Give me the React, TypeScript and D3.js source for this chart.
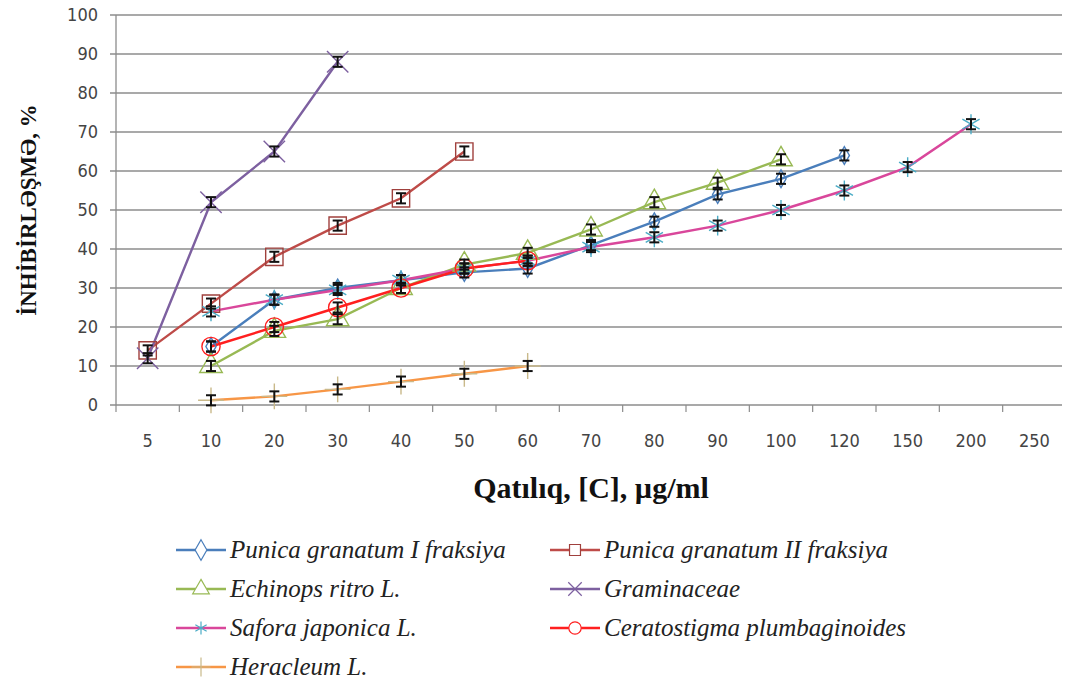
import { useEffect } from "react";
import * as d3 from "d3";

const categories = ["5", "10", "20", "30", "40", "50", "60", "70", "80", "90", "100", "120", "150", "200", "250"];
const yTicks = [0, 10, 20, 30, 40, 50, 60, 70, 80, 90, 100];

const punicaI = [null, 15, 27, 30, 32, 34, 35, 41, 47, 54, 58, 64, null, null, null];
const punicaII = [14, 26, 38, 46, 53, 65, null, null, null, null, null, null, null, null, null];
const echinops = [null, 10, 19, 22, 30, 36, 39, 45, 52, 57, 63, null, null, null, null];
const graminaceae = [12, 52, 65, 88, null, null, null, null, null, null, null, null, null, null, null];
const safora = [null, 24, 27, 29.5, 32, 35, 37, 40.5, 43, 46, 50, 55, 61, 72, null];
const ceratostigma = [null, 15, 20, 25, 30, 35, 37, null, null, null, null, null, null, null, null];
const heracleum = [null, 1.2, 2.2, 4, 6, 8, 10, null, null, null, null, null, null, null, null];

const series = [
  { name: "Punica granatum I fraksiya", values: punicaI, color: "#4A7EBB", mark: "diamond", markColor: "#4A7EBB" },
  { name: "Punica granatum II fraksiya", values: punicaII, color: "#BE4B48", mark: "square", markColor: "#A0403D" },
  { name: "Echinops ritro L.", values: echinops, color: "#98B954", mark: "triangle", markColor: "#98B954" },
  { name: "Graminaceae", values: graminaceae, color: "#7D60A0", mark: "x", markColor: "#7D60A0" },
  { name: "Safora japonica L.", values: safora, color: "#D9479B", mark: "asterisk", markColor: "#4BACC6" },
  { name: "Ceratostigma plumbaginoides", values: ceratostigma, color: "#FF1F1F", mark: "circle", markColor: "#FF1F1F" },
  { name: "Heracleum L.", values: heracleum, color: "#F79646", mark: "plus", markColor: "#C9B98A" },
];

const errHalf = 1.3;

const symbolFor = (m: string) => {
  switch (m) {
    case "diamond": return d3.symbol(d3.symbolDiamond, 90);
    case "square": return d3.symbol(d3.symbolSquare, 300);
    case "triangle": return d3.symbol(d3.symbolTriangle, 220);
    case "x": return d3.symbol(d3.symbolTimes, 300);
    case "asterisk": return d3.symbol(d3.symbolAsterisk, 280);
    case "circle": return d3.symbol(d3.symbolCircle, 260);
    default: return d3.symbol(d3.symbolPlus, 220);
  }
};

const serif = "'Liberation Serif', 'DejaVu Serif', serif";

export default function App() {
  useEffect(() => {
    document.body.style.margin = "0";
  }, []);

  const W = 1070, H = 681;
  const m = { left: 116, right: 4, top: 15, bottom: 276 };
  const x = d3.scaleBand().domain(categories).range([m.left, W - m.right]).padding(0);
  const y = d3.scaleLinear().domain([0, 100]).range([H - m.bottom, m.top]);
  const cx = (i: number) => (x(categories[i]) as number) + x.bandwidth() / 2;

  const line = d3
    .line<number | null>()
    .defined((d) => d !== null)
    .x((_, i) => cx(i))
    .y((d) => y(d as number));

  const axisColor = "#8C8C8C";
  const tickFont = "'DejaVu Sans Condensed', 'Liberation Sans', sans-serif";
  const legendRows = [550, 589, 628, 667];
  const legendCols = [176, 550];

  return (
    <svg width={W} height={H} style={{ display: "block", background: "#fff" }}>
      {/* grid */}
      {yTicks.map((t) => (
        <g key={t}>
          <line x1={m.left - 6} x2={W - m.right - 4} y1={y(t)} y2={y(t)} stroke={axisColor} strokeWidth={1.3} />
          <text x={m.left - 18} y={y(t)} dy="0.35em" textAnchor="end" style={{ fontFamily: tickFont }} fontSize={18} fill="#444">
            {t}
          </text>
        </g>
      ))}
      <line x1={m.left} x2={m.left} y1={y(100)} y2={y(0)} stroke={axisColor} strokeWidth={1.3} />
      {/* x ticks */}
      {categories.map((c, i) => (
        <g key={c}>
          <line x1={x(c) as number} x2={x(c) as number} y1={y(0)} y2={y(0) + 7} stroke={axisColor} strokeWidth={1.2} />
          <text x={cx(i)} y={y(0) + 42} textAnchor="middle" style={{ fontFamily: tickFont }} fontSize={18} fill="#444">
            {c}
          </text>
        </g>
      ))}

      {/* lines */}
      {series.map((s) => (
        <path key={s.name} d={line(s.values) || ""} fill="none" stroke={s.color} strokeWidth={2.4} />
      ))}
      {/* markers */}
      {series.map((s) =>
        s.values.map((v, i) =>
          v === null ? null : (
            <path
              key={s.name + i}
              d={symbolFor(s.mark)() || ""}
              transform={`translate(${cx(i)},${y(v)})`}
              fill="none"
              stroke={s.markColor}
              strokeWidth={1.4}
            />
          )
        )
      )}
      {/* error bars */}
      {series.map((s) =>
        s.values.map((v, i) =>
          v === null ? null : (
            <g key={"e" + s.name + i} stroke="#111" strokeWidth={2}>
              <line x1={cx(i)} x2={cx(i)} y1={y(v - errHalf)} y2={y(v + errHalf)} />
              <line x1={cx(i) - 5} x2={cx(i) + 5} y1={y(v - errHalf)} y2={y(v - errHalf)} />
              <line x1={cx(i) - 5} x2={cx(i) + 5} y1={y(v + errHalf)} y2={y(v + errHalf)} />
            </g>
          )
        )
      )}

      {/* axis titles */}
      <text
        transform={`translate(36,${(y(0) + y(100)) / 2}) rotate(-90)`}
        textAnchor="middle"
        style={{ fontFamily: serif, fontWeight: "bold", fontSize: 23 }}
        fill="#111"
      >
        İNHİBİRLƏŞMƏ, %
      </text>
      <text
        x={(m.left + W - m.right) / 2}
        y={498}
        textAnchor="middle"
        style={{ fontFamily: serif, fontWeight: "bold", fontSize: 30 }}
        fill="#111"
      >
        Qatılıq, [C], µg/ml
      </text>

      {/* legend */}
      {series.map((s, k) => {
        const lx = legendCols[k % 2];
        const ly = legendRows[Math.floor(k / 2)];
        return (
          <g key={"l" + s.name}>
            <line x1={lx} x2={lx + 50} y1={ly} y2={ly} stroke={s.color} strokeWidth={2.4} />
            <path
              d={symbolFor(s.mark).size(120)() || ""}
              transform={`translate(${lx + 25},${ly})`}
              fill="#fff"
              stroke={s.markColor}
              strokeWidth={1.2}
            />
            <text
              x={lx + 54}
              y={ly}
              dy="0.32em"
              style={{ fontFamily: serif, fontStyle: "italic", fontSize: 25 }}
              fill="#222"
            >
              {s.name}
            </text>
          </g>
        );
      })}
    </svg>
  );
}
